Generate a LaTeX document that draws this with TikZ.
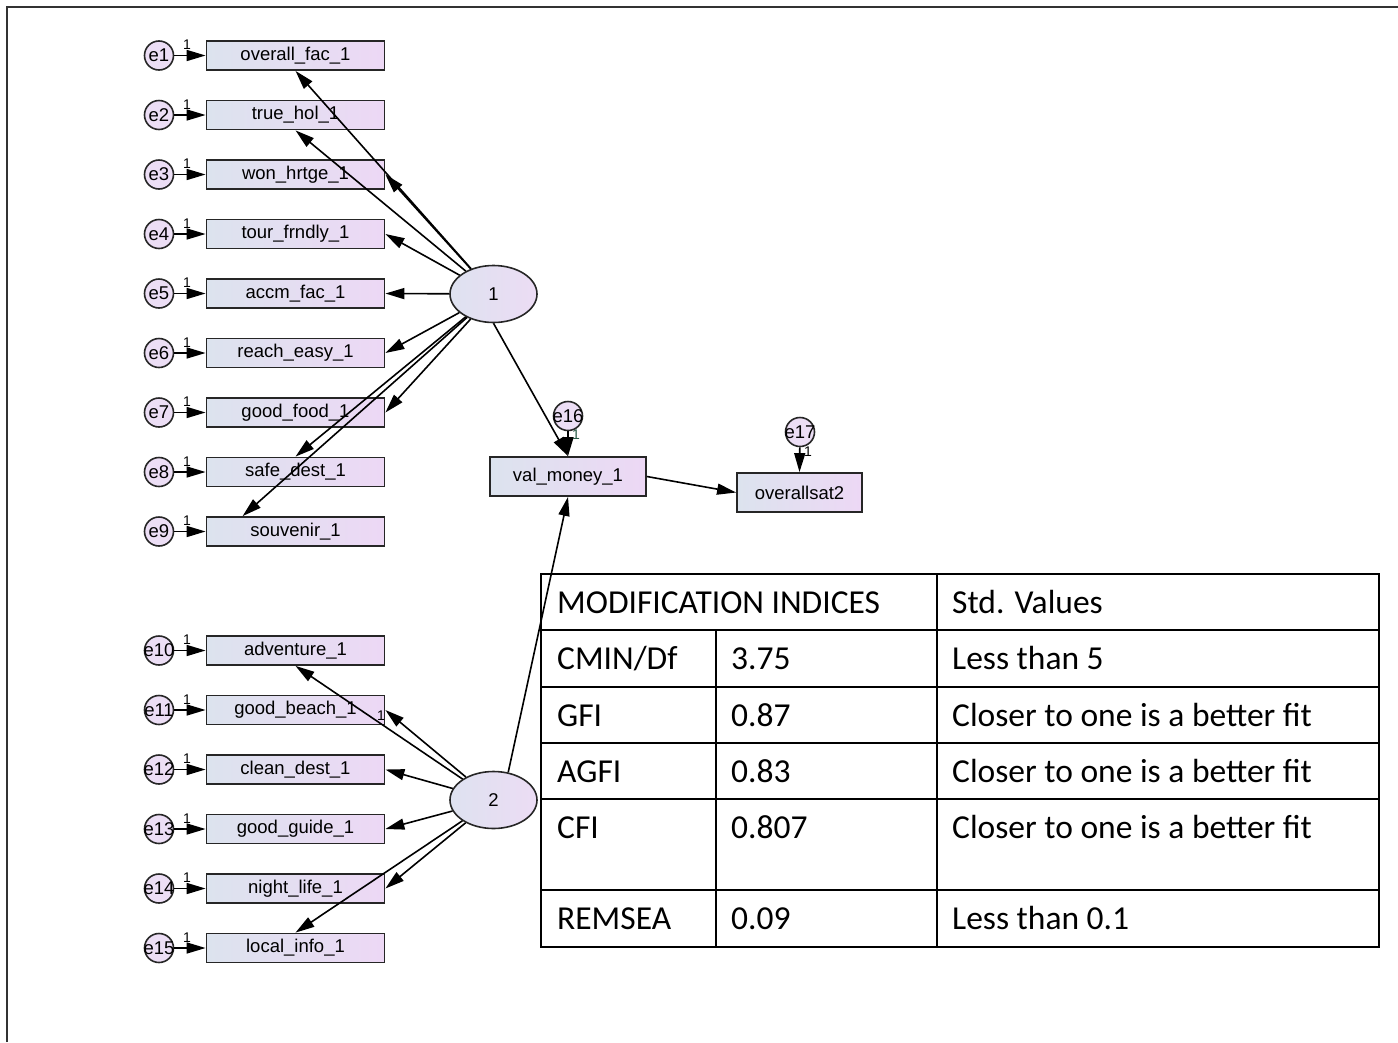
\documentclass[tikz,border=0pt]{standalone}
\usepackage{fontspec}
\setmainfont{Liberation Sans}
\newfontfamily\diagfont{Liberation Sans}
\newfontfamily\tabfont{Carlito}
\usetikzlibrary{arrows.meta,shapes.geometric}
\definecolor{obsL}{RGB}{220,227,238}
\definecolor{obsR}{RGB}{237,216,245}
\definecolor{latL}{RGB}{222,226,240}
\definecolor{latR}{RGB}{236,220,244}
\definecolor{errC}{RGB}{236,222,245}
\definecolor{oneG}{RGB}{40,90,70}
\begin{document}
\begin{tikzpicture}[x=1pt,y=-1pt,
 obs/.style={draw=black!85, line width=1.8pt, minimum width=178pt, minimum height=29pt, inner sep=0pt, left color=obsL, right color=obsR, font=\diagfont\fontsize{18.5}{20}\selectfont},
 err/.style={circle, draw=black!85, line width=1.6pt, minimum size=29pt, inner sep=0pt, fill=errC, font=\diagfont\fontsize{18.5}{20}\selectfont},
 lat/.style={ellipse, draw=black!85, line width=1.6pt, minimum width=87pt, minimum height=57pt, inner sep=0pt, left color=latL, right color=latR, font=\diagfont\fontsize{18.5}{20}\selectfont},
 arr/.style={line width=1.6pt, -{Triangle[length=19pt,width=11pt]}},
 one/.style={font=\diagfont\fontsize{14}{14}\selectfont, inner sep=0pt},
 tabline/.style={line width=1.8pt},
 tabtxt/.style={anchor=base west, inner sep=0pt, font=\tabfont\fontsize{33.5}{36}\selectfont}
]
\useasboundingbox (0,0) rectangle (1398,1042);
% frame
\draw[line width=2pt, black!80] (6.5,1042) -- (6.5,6.5) -- (1398,6.5);

% observed variables with error terms
\foreach \i/\y/\t in {1/55.5/overall\_fac\_1, 2/115/true\_hol\_1, 3/174.5/won\_hrtge\_1,
  4/234/tour\_frndly\_1, 5/293.5/accm\_fac\_1, 6/353/reach\_easy\_1, 7/412.5/good\_food\_1,
  8/472/safe\_dest\_1, 9/531.5/souvenir\_1, 10/650.5/adventure\_1, 11/710/good\_beach\_1,
  12/769.5/clean\_dest\_1, 13/829/good\_guide\_1, 14/888.5/night\_life\_1, 15/948/local\_info\_1}{
  \node[obs] (r\i) at (295.5,\y) {\t};
  \node[err] (e\i) at (159,\y) {\makebox[0pt]{e\i}};
  \draw[arr] (e\i) -- (r\i);
  \node[one] at (187,\y-10.5) {1};
}

% latent variables
\node[lat] (f1) at (493.5,294) {1};
\node[lat] (f2) at (493.5,800) {2};

% other observed
\node[obs, minimum width=156pt, minimum height=39pt] (vm) at (568,476.5) {val\_money\_1};
\node[obs, minimum width=125pt, minimum height=39pt] (os) at (799.5,492.5) {overallsat2};
\node[err] (e16) at (568,416) {\makebox[0pt]{e16}};
\node[err] (e17) at (800,432) {\makebox[0pt]{e17}};

% loadings factor 1
\draw[arr] (f1) -- (r1.south);
\draw[arr] (f1) -- (r2.south);
\draw[arr] (f1) -- (r3.east);
\draw[arr] (f1) -- (r4.east);
\draw[arr] (f1) -- (r5.east);
\draw[arr] (f1) -- (r6.east);
\draw[arr] (f1) -- (r7.east);
\draw[arr] (f1) -- (r8.north);
\draw[arr] (f1) -- ([xshift=37pt]r9.north west);

% loadings factor 2
\draw[arr] (f2) -- (r10.south);
\draw[arr] (f2) -- (r11.east);
\draw[arr] (f2) -- (r12.east);
\draw[arr] (f2) -- (r13.east);
\draw[arr] (f2) -- (r14.east);
\draw[arr] (f2) -- (r15.north);
\node[one] at (381,716) {1};

% structural paths
\draw[arr] (f1.south) -- (vm.north);
\draw[arr] (f2.62) -- (vm.south);
\draw[arr] (vm.east) -- (os.west);
\draw[arr] (e16) -- (vm.north);
\draw[arr] (e17) -- (os.north);
\node[one, text=oneG] at (576,435) {1};
\node[one] at (808,452) {1};

% table
\draw[tabline] (541,574) rectangle (1379,947);
\foreach \yy in {630,687,743,799,890}{ \draw[tabline] (541,\yy) -- (1379,\yy); }
\draw[tabline] (716,630) -- (716,947);
\draw[tabline] (937,574) -- (937,947);

\node[tabtxt] (t1) at (557,613) {MODIFICATION INDICES};
\node[tabtxt] (t2) at (952,613) {Std. Values};
\node[tabtxt] (t3) at (557,669) {CMIN/Df};
\node[tabtxt] (t4) at (731,669) {3.75};
\node[tabtxt] (t5) at (952,669) {Less than 5};
\node[tabtxt] (t6) at (557,726) {GFI};
\node[tabtxt] (t7) at (731,726) {0.87};
\node[tabtxt] (t8) at (952,726) {Closer to one is a better fit};
\node[tabtxt] (t9) at (557,782) {AGFI};
\node[tabtxt] (t10) at (731,782) {0.83};
\node[tabtxt] (t11) at (952,782) {Closer to one is a better fit};
\node[tabtxt] (t12) at (557,838) {CFI};
\node[tabtxt] (t13) at (731,838) {0.807};
\node[tabtxt] (t14) at (952,838) {Closer to one is a better fit};
\node[tabtxt] (t15) at (557,929) {REMSEA};
\node[tabtxt] (t16) at (731,929) {0.09};
\node[tabtxt] (t17) at (952,929) {Less than 0.1};
\end{tikzpicture}
\end{document}
